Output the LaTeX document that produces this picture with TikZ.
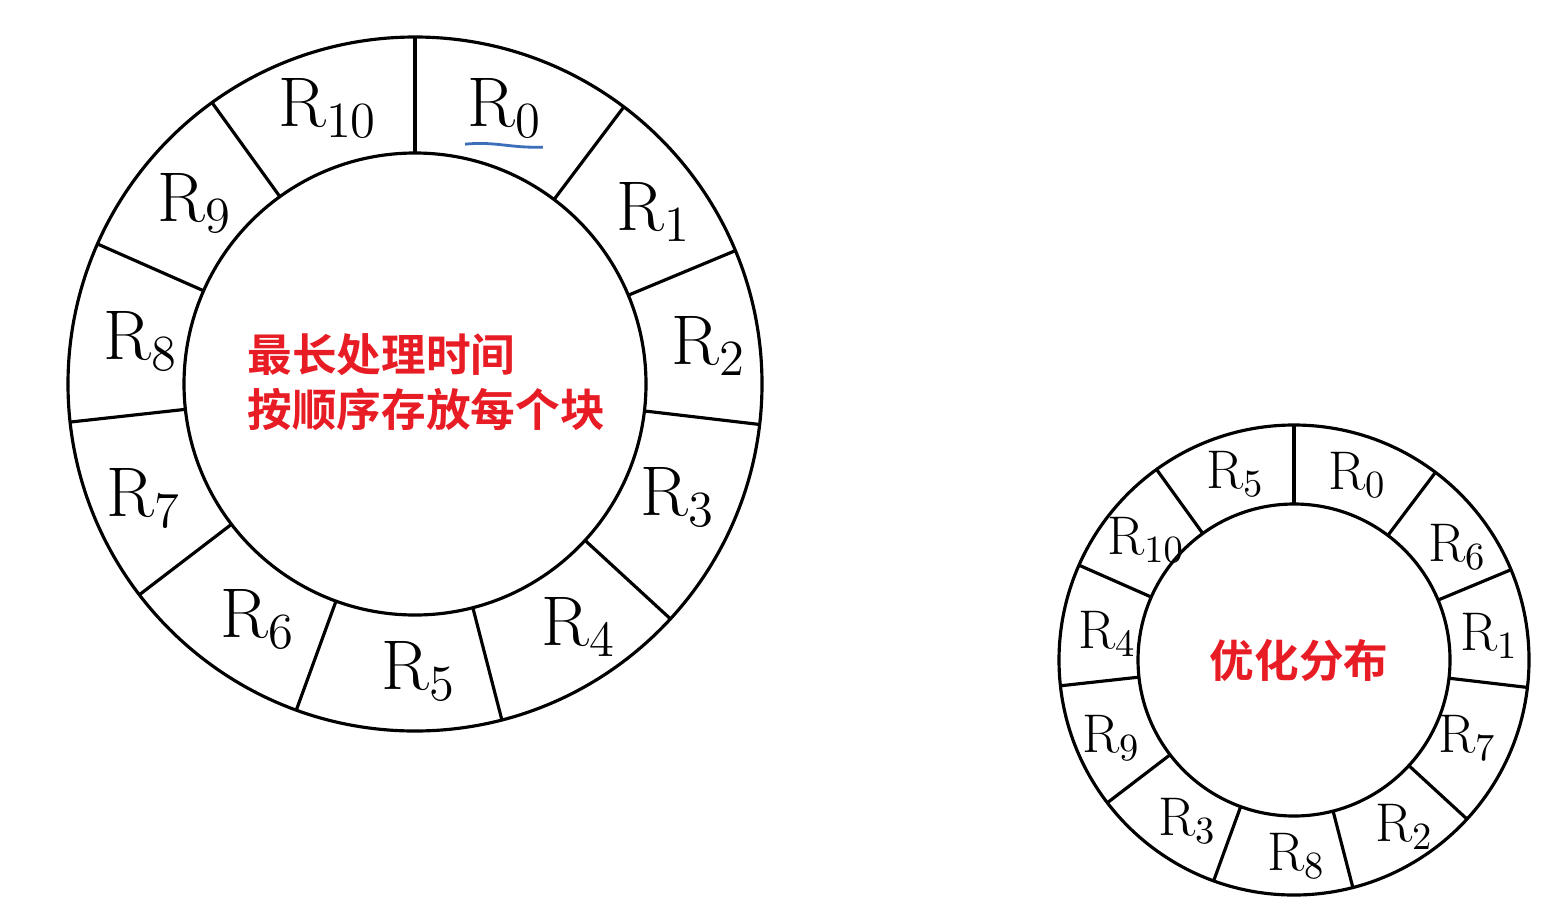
\documentclass[tikz,border=0pt]{standalone}
\usepackage{fontspec}
\newfontfamily\cjk{Noto Sans CJK SC}[BoldFont={Noto Sans CJK SC Bold}]
\usepackage{color}
\usetikzlibrary{calc}
\definecolor{notered}{RGB}{232,28,36}
\definecolor{squiggle}{RGB}{60,110,185}

\begin{document}
\begin{tikzpicture}[
    ringline/.style={line width=0.9pt},
    bigR/.style={font=\fontsize{20}{24}\selectfont, inner sep=0pt},
    smallR/.style={font=\fontsize{15.5}{18}\selectfont, inner sep=0pt},
    note/.style={font=\cjk\bfseries\fontsize{12.7}{15.6}\selectfont, text=notered, inner sep=0pt}
]
    \useasboundingbox[fill=white] (0,0) rectangle (15.57,9.14);

    % Draw the left ring
    \begin{scope}[shift={(4.15,5.30)}]
        \draw[ringline] (0,0) circle (3.47);
        \draw[ringline] (0,0) circle (2.31);
        \foreach \a in {90,53,22.6,-6.7,-42.6,-75.5,-110,-142.6,-173.7,-203.8,-234.2}
            \draw[ringline] (\a:2.31) -- (\a:3.47);
        % Label the blocks
        \foreach \n/\p in {0/{0.90,2.76},1/{2.39,1.72},2/{2.94,0.38},3/{2.63,-1.13},
                           4/{1.64,-2.43},5/{0.04,-2.87},6/{-1.57,-2.35},7/{-2.71,-1.14},
                           8/{-2.74,0.43},9/{-2.20,1.81},10/{-0.87,2.76}}
            \node[bigR] (l\n) at (\p) {R$_{\n}$};
        \node[note, align=left, anchor=west] (longest) at (-1.68,0.02)
            {最长处理时间\\按顺序存放每个块};
    \end{scope}

    % Squiggle under R0
    \draw[squiggle, line width=0.8pt] ($(l0.south west)+(-0.02,-0.06)$)
        .. controls ($(l0.south)+(-0.1,-0.03)$) and ($(l0.south)+(0.05,-0.1)$) .. ($(l0.south east)+(0.0,-0.09)$);

    % Draw the right ring
    \begin{scope}[shift={(12.94,2.54)}]
        \draw[ringline] (0,0) circle (2.35);
        \draw[ringline] (0,0) circle (1.56);
        \foreach \a in {90,53,22.6,-6.7,-42.6,-75.5,-110,-142.6,-173.7,-203.8,-234.2}
            \draw[ringline] (\a:1.56) -- (\a:2.35);
        % Label the blocks
        \foreach \n/\p in {0/{0.63,1.85},6/{1.63,1.13},1/{1.95,0.24},7/{1.73,-0.78},
                           2/{1.10,-1.67},8/{0.02,-1.96},3/{-1.07,-1.61},9/{-1.83,-0.78},
                           4/{-1.87,0.26},10/{-1.48,1.20},5/{-0.59,1.86}}
            \node[smallR] (r\n) at (\p) {R$_{\n}$};
        \node[note] (optimal) at (0.05,0) {优化分布};
    \end{scope}
\end{tikzpicture}
\end{document}
